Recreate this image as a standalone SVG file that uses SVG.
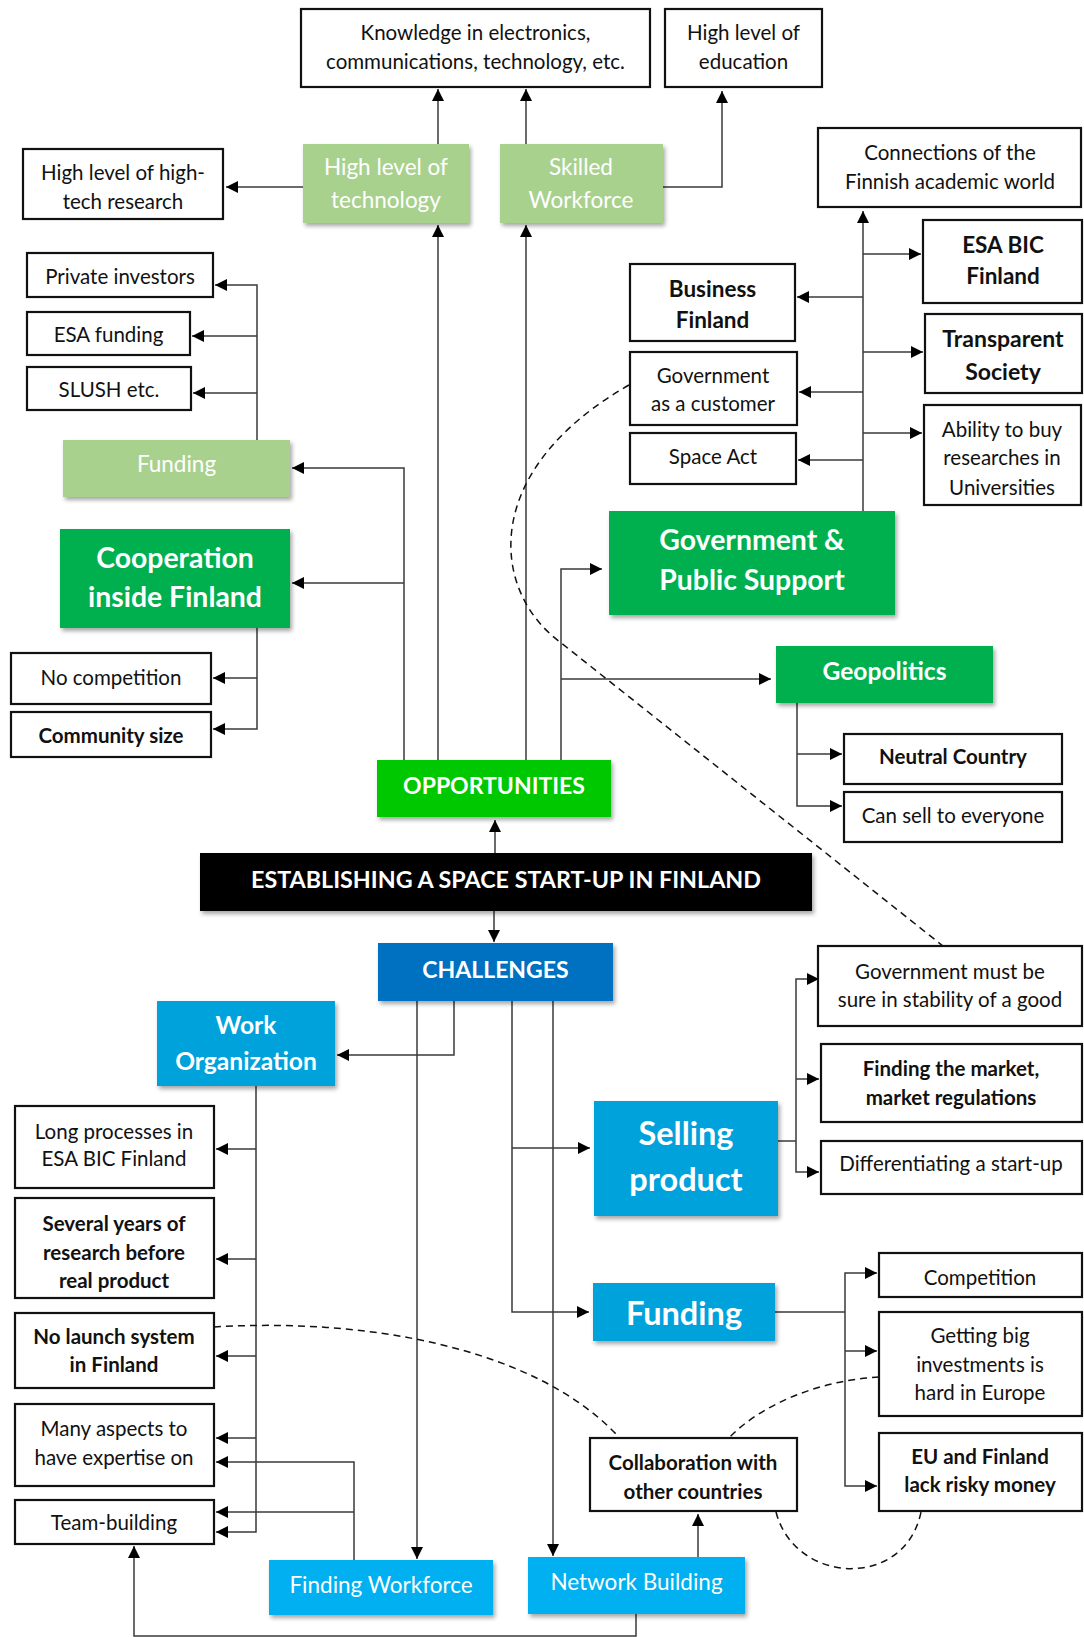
<svg xmlns="http://www.w3.org/2000/svg" width="1084" height="1637" viewBox="0 0 1084 1637">
<style>
  text { font-family: Lato, "Open Sans", "Liberation Sans", sans-serif; text-anchor: middle; }
  .box { fill: #ffffff; stroke: #111111; stroke-width: 2.2; }
  .t { font-size: 20.5px; fill: #111111; }
  .tb { font-size: 20.5px; fill: #111111; font-weight: bold; }
  .tb2 { font-size: 22.5px; fill: #111111; font-weight: bold; }
  .wl { font-size: 22.5px; fill: #ffffff; }
  .wh { font-size: 24.6px; fill: #ffffff; font-weight: bold; }
  .wc { font-size: 23px; fill: #ffffff; font-weight: bold; }
  .wx { font-size: 28.4px; fill: #ffffff; font-weight: bold; }
  .wxx { font-size: 32.5px; fill: #ffffff; font-weight: bold; }
  .lg { fill: #a9d18e; filter: url(#sh); }
  .dg { fill: #00b050; filter: url(#sh); }
  .bg { fill: #00c800; filter: url(#sh); }
  .blk { fill: #000000; filter: url(#sh); }
  .cb { fill: #0070c0; filter: url(#sh); }
  .mb { fill: #00a2dc; filter: url(#sh); }
  .sb { fill: #00b0f0; filter: url(#sh); }
  .con path { fill: none; stroke: #3a3a3a; stroke-width: 1.5; }
  .con path.a { marker-end: url(#ah); }
  .con path.d { stroke: #111111; stroke-dasharray: 7 5; stroke-width: 1.5; }
</style>
<defs>
  <marker id="ah" markerUnits="userSpaceOnUse" markerWidth="12" markerHeight="12" refX="12" refY="6" orient="auto">
    <path d="M0,0 L12,6 L0,12 z" fill="#000000"/>
  </marker>
  <filter id="sh" x="-10%" y="-10%" width="125%" height="135%">
    <feDropShadow dx="2" dy="3" stdDeviation="2" flood-color="#000000" flood-opacity="0.35"/>
  </filter>
</defs>
<rect width="1084" height="1637" fill="#ffffff"/>

<!-- connectors -->
<g class="con">
  <!-- top: technology and workforce -->
  <path class="a" d="M438,144 V89"/>
  <path class="a" d="M526,144 V89"/>
  <path class="a" d="M663,187 H722 V91"/>
  <path class="a" d="M303,187 H226"/>
  <path class="a" d="M438,760 V225"/>
  <path class="a" d="M526,760 V225"/>
  <!-- funding and cooperation -->
  <path class="a" d="M404,760 V468 H292"/>
  <path class="a" d="M404,583 H292"/>
  <path class="a" d="M257,440 V285 H215"/>
  <path class="a" d="M257,336 H192"/>
  <path class="a" d="M257,393 H193"/>
  <path class="a" d="M257,628 V729 H213"/>
  <path class="a" d="M257,678 H213"/>
  <!-- government and geopolitics -->
  <path class="a" d="M561,760 V569 H602"/>
  <path class="a" d="M561,679 H771"/>
  <path class="a" d="M797,703 V806 H842"/>
  <path class="a" d="M797,754 H842"/>
  <path class="a" d="M863,511 V211"/>
  <path class="a" d="M863,254 H921"/>
  <path class="a" d="M863,352 H923"/>
  <path class="a" d="M863,433 H922"/>
  <path class="a" d="M863,297 H797"/>
  <path class="a" d="M863,392 H799"/>
  <path class="a" d="M863,460 H798"/>
  <!-- centre -->
  <path class="a" d="M495,853 V820"/>
  <path class="a" d="M494,911 V942"/>
  <!-- challenges -->
  <path class="a" d="M454,1001 V1055 H337"/>
  <path class="a" d="M417,1001 V1559"/>
  <path class="a" d="M512,1001 V1312 H589"/>
  <path class="a" d="M512,1148 H590"/>
  <path class="a" d="M553,1001 V1556"/>
  <path d="M778,1141 H796"/>
  <path class="a" d="M796,1141 V979 H819"/>
  <path class="a" d="M796,1079 H819"/>
  <path class="a" d="M796,1141 V1172 H819"/>
  <path d="M775,1312 H845"/>
  <path class="a" d="M845,1312 V1273 H877"/>
  <path class="a" d="M845,1351 H877"/>
  <path class="a" d="M845,1312 V1486 H877"/>
  <!-- work organization -->
  <path class="a" d="M256,1086 V1532 H216"/>
  <path class="a" d="M256,1149 H216"/>
  <path class="a" d="M256,1259 H216"/>
  <path class="a" d="M256,1356 H216"/>
  <path class="a" d="M256,1438 H216"/>
  <path class="a" d="M354,1560 V1462 H216"/>
  <path class="a" d="M354,1512 H216"/>
  <path class="a" d="M636,1614 V1636 H134 V1546"/>
  <path class="a" d="M698,1557 V1514"/>
  <!-- dashed relations -->
  <path class="d" d="M629,385 C480,470 490,590 560,642 L943,946"/>
  <path class="d" d="M214,1327 C360,1318 530,1345 616,1434"/>
  <path class="d" d="M879,1377 C820,1380 760,1405 729,1438"/>
  <path class="d" d="M776,1512 C795,1585 905,1590 921,1512"/>
</g>

<!-- opportunities side -->
<g id="knowledge"><rect class="box" x="301" y="9" width="349" height="78"/><text class="t" x="475.5" y="40">Knowledge in electronics,</text><text class="t" x="475.5" y="69">communications, technology, etc.</text></g>
<g id="education"><rect class="box" x="665" y="9" width="157" height="78"/><text class="t" x="743.5" y="40">High level of</text><text class="t" x="743.5" y="69">education</text></g>
<g id="hightech-research"><rect class="box" x="23" y="149" width="200" height="70"/><text class="t" x="123" y="180">High level of high-</text><text class="t" x="123" y="209">tech research</text></g>
<g id="high-technology"><rect class="lg" x="303" y="144" width="166" height="79"/><text class="wl" x="386" y="175">High level of</text><text class="wl" x="386" y="208">technology</text></g>
<g id="skilled-workforce"><rect class="lg" x="500" y="144" width="163" height="79"/><text class="wl" x="581" y="175">Skilled</text><text class="wl" x="581" y="208">Workforce</text></g>
<g id="academic"><rect class="box" x="818" y="128" width="263" height="79"/><text class="t" x="950" y="160">Connections of the</text><text class="t" x="950" y="189">Finnish academic world</text></g>
<g id="private-investors"><rect class="box" x="27" y="253" width="186" height="44"/><text class="t" x="120" y="284">Private investors</text></g>
<g id="esa-funding"><rect class="box" x="27" y="312" width="163" height="43"/><text class="t" x="108.5" y="342">ESA funding</text></g>
<g id="slush"><rect class="box" x="27" y="367" width="164" height="43"/><text class="t" x="109" y="397">SLUSH etc.</text></g>
<g id="funding-opp"><rect class="lg" x="63" y="440" width="227" height="57"/><text class="wl" x="176.5" y="472">Funding</text></g>
<g id="cooperation"><rect class="dg" x="60" y="529" width="230" height="99"/><text class="wx" x="175" y="568">Cooperation</text><text class="wx" x="175" y="607">inside Finland</text></g>
<g id="no-competition"><rect class="box" x="11" y="653" width="200" height="51"/><text class="t" x="111" y="685">No competition</text></g>
<g id="community-size"><rect class="box" x="11" y="712" width="200" height="45"/><text class="tb" x="111" y="743">Community size</text></g>
<g id="business-finland"><rect class="box" x="630" y="264" width="165" height="77"/><text class="tb2" x="712.5" y="297">Business</text><text class="tb2" x="712.5" y="328">Finland</text></g>
<g id="esa-bic"><rect class="box" x="923" y="220" width="159" height="83"/><text class="tb2" x="1003" y="253">ESA BIC</text><text class="tb2" x="1003" y="284">Finland</text></g>
<g id="transparent"><rect class="box" x="925" y="314" width="157" height="79"/><text class="tb2" x="1003" y="347" style="font-size:23px">Transparent</text><text class="tb2" x="1003" y="380" style="font-size:23px">Society</text></g>
<g id="gov-customer"><rect class="box" x="630" y="352" width="167" height="73"/><text class="t" x="713" y="383">Government</text><text class="t" x="713" y="411">as a customer</text></g>
<g id="space-act"><rect class="box" x="630" y="433" width="166" height="51"/><text class="t" x="713" y="464">Space Act</text></g>
<g id="ability"><rect class="box" x="924" y="405" width="157" height="100"/><text class="t" x="1002" y="437">Ability to buy</text><text class="t" x="1002" y="465">researches in</text><text class="t" x="1002" y="495">Universities</text></g>
<g id="government"><rect class="dg" x="609" y="511" width="286" height="104"/><text class="wx" x="752" y="550">Government &amp;</text><text class="wx" x="752" y="590">Public Support</text></g>
<g id="geopolitics"><rect class="dg" x="776" y="646" width="217" height="57"/><text class="wh" x="884.5" y="680">Geopolitics</text></g>
<g id="neutral"><rect class="box" x="844" y="734" width="218" height="50"/><text class="tb" x="953" y="764">Neutral Country</text></g>
<g id="can-sell"><rect class="box" x="844" y="792" width="218" height="50"/><text class="t" x="953" y="823">Can sell to everyone</text></g>

<!-- centre -->
<g id="opportunities"><rect class="bg" x="377" y="760" width="234" height="57"/><text class="wc" x="494" y="794">OPPORTUNITIES</text></g>
<g id="establishing"><rect class="blk" x="200" y="853" width="612" height="58"/><text class="wc" x="506" y="888" style="font-size:23.3px">ESTABLISHING A SPACE START-UP IN FINLAND</text></g>
<g id="challenges"><rect class="cb" x="378" y="943" width="235" height="58"/><text class="wc" x="495.5" y="978">CHALLENGES</text></g>

<!-- challenges side -->
<g id="work-organization"><rect class="mb" x="157" y="1001" width="178" height="85"/><text class="wh" x="246" y="1034">Work</text><text class="wh" x="246" y="1070">Organization</text></g>
<g id="gov-must"><rect class="box" x="818" y="946" width="264" height="80"/><text class="t" x="950" y="979">Government must be</text><text class="t" x="950" y="1007">sure in stability of a good</text></g>
<g id="finding-market"><rect class="box" x="821" y="1044" width="261" height="78"/><text class="tb" x="951" y="1076">Finding the market,</text><text class="tb" x="951" y="1105">market regulations</text></g>
<g id="differentiating"><rect class="box" x="821" y="1141" width="261" height="53"/><text class="t" x="951" y="1171">Differentiating a start-up</text></g>
<g id="selling"><rect class="mb" x="594" y="1101" width="184" height="115"/><text class="wxx" x="686" y="1145">Selling</text><text class="wxx" x="686" y="1191">product</text></g>
<g id="long-processes"><rect class="box" x="15" y="1106" width="199" height="82"/><text class="t" x="114" y="1139">Long processes in</text><text class="t" x="114" y="1166">ESA BIC Finland</text></g>
<g id="several-years"><rect class="box" x="15" y="1198" width="199" height="100"/><text class="tb" x="114" y="1231">Several years of</text><text class="tb" x="114" y="1260">research before</text><text class="tb" x="114" y="1288">real product</text></g>
<g id="competition"><rect class="box" x="879" y="1253" width="203" height="44"/><text class="t" x="980" y="1285">Competition</text></g>
<g id="funding-ch"><rect class="mb" x="593" y="1283" width="182" height="58"/><text class="wxx" x="684" y="1325">Funding</text></g>
<g id="big-investments"><rect class="box" x="879" y="1312" width="203" height="104"/><text class="t" x="980" y="1343">Getting big</text><text class="t" x="980" y="1372">investments is</text><text class="t" x="980" y="1400">hard in Europe</text></g>
<g id="no-launch"><rect class="box" x="15" y="1313" width="199" height="75"/><text class="tb" x="114" y="1344">No launch system</text><text class="tb" x="114" y="1372">in Finland</text></g>
<g id="many-aspects"><rect class="box" x="15" y="1404" width="199" height="82"/><text class="t" x="114" y="1436">Many aspects to</text><text class="t" x="114" y="1465">have expertise on</text></g>
<g id="risky-money"><rect class="box" x="879" y="1433" width="203" height="78"/><text class="tb" x="980" y="1464">EU and Finland</text><text class="tb" x="980" y="1492">lack risky money</text></g>
<g id="collaboration"><rect class="box" x="590" y="1438" width="207" height="73"/><text class="tb" x="693" y="1470">Collaboration with</text><text class="tb" x="693" y="1499">other countries</text></g>
<g id="team-building"><rect class="box" x="15" y="1500" width="199" height="44"/><text class="t" x="114" y="1530">Team-building</text></g>
<g id="finding-workforce"><rect class="sb" x="269" y="1560" width="224" height="55"/><text class="wl" x="381" y="1593">Finding Workforce</text></g>
<g id="network-building"><rect class="sb" x="528" y="1557" width="217" height="57"/><text class="wl" x="636.5" y="1590">Network Building</text></g>
</svg>
